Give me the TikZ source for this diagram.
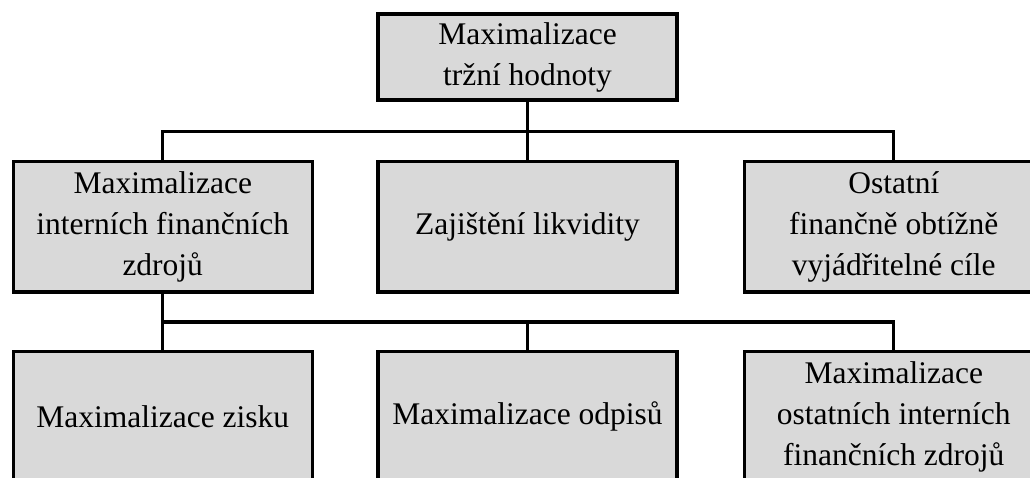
\documentclass[tikz,border=0pt]{standalone}
\usepackage{fontspec}
\setmainfont{Liberation Serif}
\begin{document}
\begin{tikzpicture}[x=1pt,y=-1pt,
  box/.style={draw=black,line width=3.4pt,fill=boxgray,minimum width=299pt,
    inner sep=0pt,align=center,font=\fontsize{31.5}{41}\selectfont},
  midbox/.style={box,minimum height=130.5pt},
  conn/.style={line width=3.4pt,draw=black}]
\definecolor{boxgray}{HTML}{D9D9D9}
\useasboundingbox (0,0) rectangle (1030,477);
\clip (0,0) rectangle (1030,477);
\node[box,minimum height=86pt] (top) at (527.5,57) {Maximalizace\\tržní hodnoty};
\node[midbox] (m1) at (162.75,226.75) {Maximalizace\\interních finančních\\zdrojů};
\node[midbox] (m2) at (527.5,226.75) {Zajištění likvidity};
\node[midbox] (m3) at (893.75,226.75) {Ostatní\\finančně obtížně\\vyjádřitelné cíle};
\node[midbox] (b1) at (162.75,416.75) {Maximalizace zisku};
\node[midbox] (b2) at (527.5,416.75) {Maximalizace odpisů};
\node[midbox] (b3) at (893.75,416.75) {Maximalizace\\ostatních interních\\finančních zdrojů};
\coordinate (h1) at (527.5,131.5);
\coordinate (h2) at (162.75,322);
\draw[conn] (top.south) -- (m2.north);
\draw[conn] (m1.north) |- (h1) -| (m3.north);
\draw[conn] (m1.south) -- (b1.north);
\draw[conn] (h2) -| (b2.north);
\draw[conn] (h2) -| (b3.north);
\end{tikzpicture}
\end{document}
